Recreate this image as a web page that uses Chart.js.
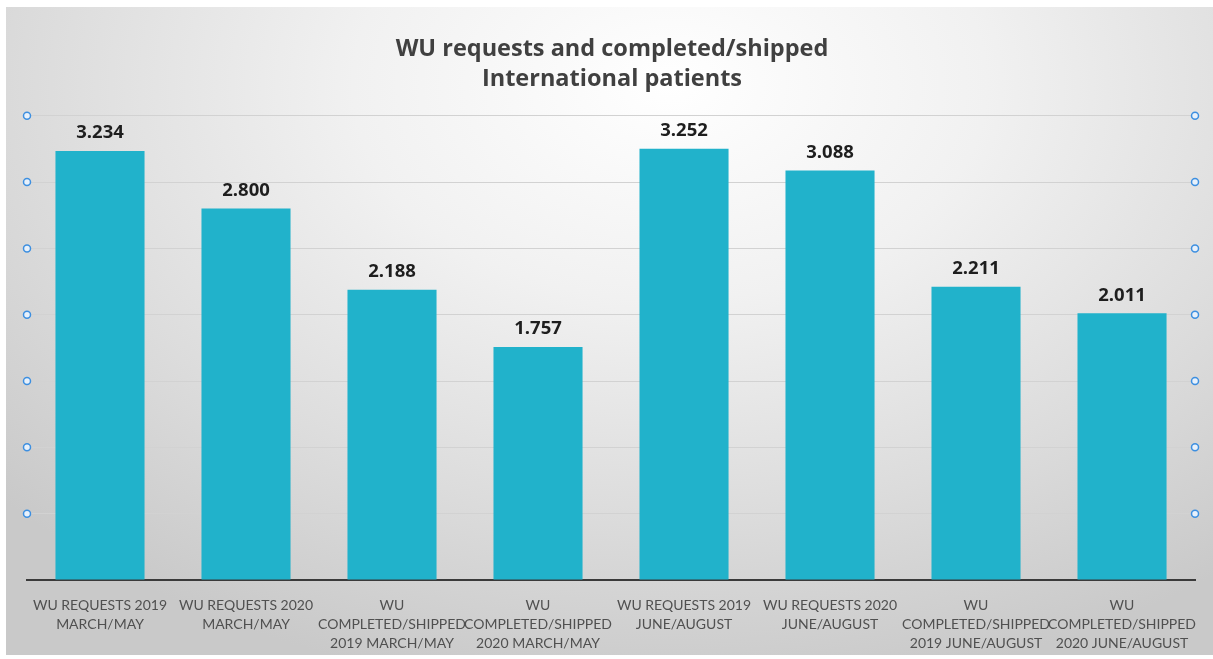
<!DOCTYPE html>
<html>
<head>
<meta charset="utf-8">
<script src="https://cdn.jsdelivr.net/npm/chart.js@4/dist/chart.umd.min.js"></script>
<style>
    html, body { margin: 0; padding: 0; background: #ffffff; }
    #frame {
        position: absolute; left: 6px; top: 7px; width: 1207px; height: 648px;
        background: radial-gradient(ellipse 75% 95% at 55% 12%, #ffffff 0%, #f1f1f1 35%, #dcdcdc 70%, #c9c9c9 100%);
    }
</style>
</head>
<body>
<div id="frame"><canvas id="wuChart" width="1207" height="648"></canvas></div>
<script>
// WU requests vs completed/shipped, international patients

const categories = [
    ['WU REQUESTS 2019', 'MARCH/MAY'],
    ['WU REQUESTS 2020', 'MARCH/MAY'],
    ['WU', 'COMPLETED/SHIPPED', '2019 MARCH/MAY'],
    ['WU', 'COMPLETED/SHIPPED', '2020 MARCH/MAY'],
    ['WU REQUESTS 2019', 'JUNE/AUGUST'],
    ['WU REQUESTS 2020', 'JUNE/AUGUST'],
    ['WU', 'COMPLETED/SHIPPED', '2019 JUNE/AUGUST'],
    ['WU', 'COMPLETED/SHIPPED', '2020 JUNE/AUGUST']
];
const patients = [3234, 2800, 2188, 1757, 3252, 3088, 2211, 2011];
const titleLines = ['WU requests and completed/shipped', 'International patients'];
const yMax = 3500;
const yStep = 500;

function formatThousands(v) {
    return String(v).replace(/\B(?=(\d{3})+(?!\d))/g, '.');
}

// value labels above each bar
const barLabels = {
    id: 'barLabels',
    afterDatasetsDraw(chart) {
        const ctx = chart.ctx;
        const meta = chart.getDatasetMeta(0);
        ctx.save();
        ctx.font = 'bold 18.5px "Open Sans"';
        ctx.fillStyle = '#1e1e1e';
        ctx.textAlign = 'center';
        ctx.textBaseline = 'middle';
        meta.data.forEach((bar, i) => {
            ctx.fillText(formatThousands(patients[i]), bar.x, bar.y - 18);
        });
        ctx.restore();
    }
};

// little selection handles at both ends of each gridline
const gridHandles = {
    id: 'gridHandles',
    afterDraw(chart) {
        const ctx = chart.ctx;
        const yScale = chart.scales.y;
        const area = chart.chartArea;
        ctx.save();
        ctx.lineWidth = 1.5;
        ctx.strokeStyle = '#3d8fe0';
        ctx.fillStyle = '#e8f1fb';
        yScale.ticks.forEach(t => {
            if (t.value <= 0) return;
            const y = yScale.getPixelForValue(t.value);
            [area.left, area.right].forEach(x => {
                ctx.beginPath();
                ctx.arc(x, y, 3.5, 0, Math.PI * 2);
                ctx.fill();
                ctx.stroke();
            });
        });
        ctx.restore();
    }
};

document.addEventListener('DOMContentLoaded', function() {
    const ctx = document.getElementById('wuChart');
    new Chart(ctx, {
        type: 'bar',
        data: {
            labels: categories,
            datasets: [{
                data: patients,
                backgroundColor: '#21b2cb',
                borderWidth: 0,
                categoryPercentage: 1,
                barPercentage: 0.61
            }]
        },
        options: {
            responsive: false,
            animation: false,
            layout: { padding: { left: 21, right: 16, top: 0, bottom: 0 } },
            plugins: {
                legend: { display: false },
                tooltip: { enabled: false },
                title: {
                    display: true,
                    text: titleLines,
                    color: '#404040',
                    font: { family: '"Open Sans"', size: 23.5, weight: 'bold', lineHeight: 1.25 },
                    padding: { top: 28, bottom: 22 }
                }
            },
            scales: {
                x: {
                    grid: { display: false, drawTicks: false },
                    border: { display: true, color: '#3a3a3a', width: 2 },
                    ticks: {
                        color: '#505050',
                        font: { family: 'Lato', size: 14, lineHeight: 1.35 },
                        padding: 16,
                        maxRotation: 0,
                        autoSkip: false
                    },
                    afterFit: function(scale) {
                        scale.height = 75;
                    }
                },
                y: {
                    min: 0,
                    max: yMax,
                    grid: { color: '#d2d2d2', lineWidth: 1, drawTicks: false },
                    border: { display: false },
                    ticks: { display: false, stepSize: yStep }
                }
            }
        },
        plugins: [barLabels, gridHandles]
    });
});
</script>
</body>
</html>
